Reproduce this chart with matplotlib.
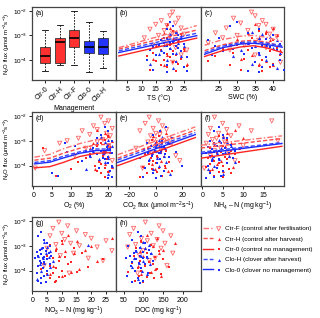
import numpy as np
import matplotlib
matplotlib.use('Agg')
import matplotlib.pyplot as plt
from matplotlib.legend_handler import HandlerTuple
from matplotlib.lines import Line2D

plt.rcParams['font.family'] = ['Liberation Sans', 'DejaVu Sans']
plt.rcParams['font.size'] = 5
plt.rcParams['mathtext.fontset'] = 'custom'
plt.rcParams['mathtext.rm'] = 'Liberation Sans'
plt.rcParams['mathtext.it'] = 'Liberation Sans:italic'
plt.rcParams['mathtext.bf'] = 'Liberation Sans:bold'

# ---- panel (a): box stats, log10 of N2O flux
box_names = ['Ctr-0', 'Ctr-H', 'Ctr-F', 'Clo-0', 'Clo-H']
box_whislo = [-4.45, -4.20, -4.20, -4.48, -4.33]
box_q1 = [-4.12, -4.12, -3.47, -3.70, -3.76]
box_med = [-3.84, -3.25, -3.09, -3.46, -3.46]
box_q3 = [-3.47, -3.10, -2.78, -3.21, -3.09]
box_whishi = [-2.78, -2.57, -2.00, -2.44, -2.84]

# ---- scatter data per group (log10 flux + drivers)
flux_ctrF = [-2.05, -2.2, -2.3, -2.4, -2.5, -2.55, -2.6, -2.7, -2.75, -2.8, -2.9,
             -2.95, -3.0, -3.05, -3.1, -3.2, -3.3, -3.4, -3.5, -3.6, -3.8, -4.1]
ts_ctrF = [21, 20, 23, 17, 22, 15, 19, 24, 13, 18, 21, 25, 16, 20, 11, 23, 19, 14, 22, 26, 24, 21]
swc_ctrF = [34, 35, 29, 37, 31, 38, 36, 27, 40, 33, 24, 39, 30, 41, 26, 36, 22, 32, 38, 28, 35, 42]
o2_ctrF = [18, 20, 19, 16, 21, 17, 13, 19.5, 15, 20.5, 12, 18.5, 9, 17, 7, 20, 14, 3, 19, 11, 21, 0.5]
co2_ctrF = [-5, 2, -8, 5, -2, 8, -12, 0, 3, -4, 10, -1, 6, -6, 12, 1, -15, 4, -3, 15, 18, -10]
nh4_ctrF = [3, 17, 5, 9, 2, 6, 12, 4, 1.5, 7, 3.5, 2.5, 18.5, 5.5, 1, 10, 4.5, 3, 6.5, 2, 8, 0.5]
no3_ctrF = [9, 12, 7, 15, 10, 18, 6, 20, 11, 25, 13, 8, 16, 22, 5, 27, 14, 9.5, 19, 24, 4, 12.5]
doc_ctrF = [105, 140, 75, 150, 120, 65, 170, 95, 135, 110, 155, 80, 125, 60, 145, 100, 175, 90, 130, 115, 160, 85]

flux_ctrH = [-2.55, -2.7, -2.8, -2.9, -3.0, -3.1, -3.15, -3.2, -3.3, -3.4, -3.6, -3.8,
             -3.95, -4.05, -4.15, -4.2]
ts_ctrH = [19, 20, 22, 18, 24, 21, 17, 23, 20, 15, 25, 19, 14, 22, 26, 18]
swc_ctrH = [35, 40, 38, 33, 41, 36, 30, 39, 37, 28, 42, 34, 31, 38, 36, 40]
o2_ctrH = [17, 19, 20, 18, 21, 16, 19.5, 20.5, 15, 18.5, 20, 17.5, 19, 21, 16.5, 20]
co2_ctrH = [3, 8, -2, 5, 0, 10, -4, 2, 6, -6, 1, 4, -3, 7, -1, 9]
nh4_ctrH = [8, 6, 5, 10, 4, 7, 3, 5.5, 9, 2, 6.5, 4.5, 3.5, 7.5, 2.5, 5]
no3_ctrH = [12, 27, 15, 10, 20, 8, 18, 11, 14, 9, 22, 7, 16, 13, 6, 10]
doc_ctrH = [110, 135, 95, 180, 125, 105, 150, 90, 140, 100, 115, 85, 130, 120, 95, 145]

flux_ctr0 = [-2.8, -2.95, -3.1, -3.2, -3.3, -3.4, -3.45, -3.5, -3.55, -3.6, -3.65, -3.7, -3.75,
             -3.8, -3.85, -3.9, -3.95, -4.0, -4.05, -4.1, -4.15, -4.2, -4.25, -4.3, -4.4, -4.45]
ts_ctr0 = [21, 24, 19, 22, 18, 20, 16, 23, 25, 17, 21, 14, 19, 22, 12, 20, 24, 18, 15, 21, 23, 17, 26, 19, 13, 22]
swc_ctr0 = [36, 38, 34, 40, 35, 30, 37, 41, 26, 33, 39, 29, 36, 42, 24, 38, 32, 37, 22, 35, 40, 28, 36, 39, 31, 37]
o2_ctr0 = [20, 19, 18, 17, 2.6, 16, 19, 21, 15, 18.5, 20, 14, 19.5, 17.5, 12, 20, 18, 16.5, 21, 19, 10, 17, 20, 18, 6, 19]
co2_ctr0 = [2, -3, 5, 0, -6, 8, -1, 4, -8, 1, 6, -4, 3, -2, 10, 0, -5, 7, -10, 2, -3, 12, 1, -7, 5, -12]
nh4_ctr0 = [4, 6, 3, 5, 2, 7, 4.5, 3.5, 8, 2.5, 5.5, 1.5, 6, 3, 9, 4, 2, 5, 1, 3.5, 6.5, 2, 4, 7, 3, 5]
no3_ctr0 = [10, 6, 14, 8, 17, 5, 11, 7, 24, 9, 13, 4, 12, 6, 19, 8, 3, 10, 15, 7, 5, 11, 9, 6, 8, 7.7]
doc_ctr0 = [95, 120, 80, 140, 110, 75, 130, 100, 150, 90, 115, 70, 125, 105, 165, 85, 135, 95, 60, 118, 145, 88, 108, 128, 78, 98]

flux_cloH = [-2.85, -2.95, -3.05, -3.1, -3.2, -3.3, -3.4, -3.45, -3.5, -3.6, -3.7, -3.75,
             -3.85, -4.0, -4.15, -4.33]
ts_cloH = [22, 20, 24, 19, 21, 23, 18, 25, 20, 17, 22, 16, 24, 19, 13, 21]
swc_cloH = [34, 37, 39, 36, 41, 33, 38, 35, 40, 31, 42, 36, 29, 38, 34, 41]
o2_cloH = [18, 20, 19, 17, 21, 19.5, 16, 20.5, 18.5, 15, 20, 17.5, 19, 21, 14, 20]
co2_cloH = [5, 2, 9, -1, 4, 7, 0, 3, -3, 6, 1, -5, 8, 2, -2, 11]
nh4_cloH = [5, 4, 6, 3, 7, 4.5, 2, 5.5, 3.5, 6.5, 2.5, 4, 8, 3, 1.5, 5]
no3_cloH = [4, 19, 5, 3, 6, 4.5, 2, 5.5, 3.5, 7, 4, 2.5, 6, 3, 5, 1.5]
doc_cloH = [100, 115, 90, 105, 80, 120, 95, 110, 75, 100, 88, 118, 70, 96, 108, 85]

flux_clo0 = [-2.45, -2.6, -2.75, -2.9, -3.0, -3.1, -3.15, -3.2, -3.25, -3.3, -3.35, -3.4, -3.42,
             -3.45, -3.48, -3.5, -3.55, -3.6, -3.65, -3.7, -3.75, -3.8, -3.9, -4.0, -4.1, -4.2,
             -4.3, -4.4, -4.45, -4.5]
ts_clo0 = [20, 21, 19, 22, 23, 18, 24, 17, 21, 20, 25, 16, 19, 22, 14, 23, 20, 13, 24, 18, 21, 15,
           26, 12, 22, 19, 25, 14, 26, 19]
swc_clo0 = [30, 28, 36, 33, 40, 25, 38, 22, 35, 31, 42, 27, 37, 24, 39, 34, 29, 41, 26, 36, 32, 23,
            38, 42, 35, 40, 37, 43, 33, 36]
o2_clo0 = [19, 20, 18, 17, 21, 8.5, 20, 11, 19.5, 16, 20.5, 14, 18, 9, 19, 21, 17, 15, 20, 18.5, 19,
           13, 20, 21, 17.5, 20.5, 4.9, 6.6, 21, 20]
co2_clo0 = [8, 3, -2, 12, 5, -7, 1, -4, 6, 0, -9, 4, -1, 15, 2, -6, 7, -3, 10, -12, 3, -5, 1, 20,
            -8, 6, -2, 4, -10, 0]
nh4_clo0 = [4, 3, 5, 6, 2, 4.5, 7, 3.5, 1.5, 5.5, 2.5, 8, 4, 3, 6.5, 1, 5, 2, 3, 7.5, 4, 2.5, 6,
            1.5, 3.5, 5, 2, 4.5, 3, 1]
no3_clo0 = [3, 2, 4, 5, 6, 3.5, 2.5, 4.5, 1.5, 5.5, 3, 6.5, 2, 4, 3.5, 1, 5, 2.5, 4, 3, 6, 2, 3.5,
            5, 1.5, 4, 3, 2, 4.5, 3]
doc_clo0 = [85, 95, 70, 105, 60, 90, 115, 80, 100, 75, 120, 65, 92, 110, 55, 98, 82, 125, 72, 88,
            103, 68, 95, 78, 112, 58, 86, 100, 70, 92]

# ---- fitted lines (log10 flux), group order: Ctr-F, Ctr-H, Ctr-0, Clo-H, Clo-0
ts_fit_x = [2, 29.5]
ts_fit_y = [[-3.50, -2.60], [-3.56, -2.78], [-3.84, -3.11], [-3.63, -2.91], [-3.70, -3.01]]
swc_fit_x = [21, 26, 31, 34.5, 38, 42.5]
swc_fit_y = [[-3.40, -3.17, -3.03, -3.00, -3.07, -3.25],
             [-3.62, -3.38, -3.24, -3.20, -3.27, -3.45],
             [-3.86, -3.62, -3.47, -3.42, -3.50, -3.70],
             [-3.70, -3.44, -3.29, -3.26, -3.31, -3.42],
             [-3.77, -3.50, -3.35, -3.32, -3.37, -3.48]]
o2_fit_x = [0.3, 4.4, 8, 12.4, 16.8, 20.5]
o2_fit_y = [[-3.66, -3.55, -3.32, -3.11, -2.95, -2.91],
            [-3.78, -3.70, -3.50, -3.30, -3.16, -3.14],
            [-4.09, -4.04, -3.87, -3.63, -3.50, -3.48],
            [-3.87, -3.80, -3.62, -3.44, -3.33, -3.33],
            [-3.93, -3.86, -3.69, -3.50, -3.39, -3.39]]
co2_fit_x = [-28.7, 29.7]
co2_fit_y = [[-3.56, -2.44], [-3.70, -2.57], [-4.00, -2.87], [-3.77, -2.67], [-3.87, -2.75]]
nh4_fit_x = [-0.3, 19.5]
nh4_fit_y = [[-3.18, -2.80], [-3.29, -2.91], [-3.70, -3.22], [-3.46, -3.07], [-3.52, -3.11]]

groups = ['Ctr-F', 'Ctr-H', 'Ctr-0', 'Clo-H', 'Clo-0']
labels = ['Ctr-F (control after fertilisation)', 'Ctr-H (control after harvest)',
          'Ctr-0 (control no management)', 'Clo-H (clover after harvest)',
          'Clo-0 (clover no management)']
flux = [flux_ctrF, flux_ctrH, flux_ctr0, flux_cloH, flux_clo0]
drivers = {
    'ts': [ts_ctrF, ts_ctrH, ts_ctr0, ts_cloH, ts_clo0],
    'swc': [swc_ctrF, swc_ctrH, swc_ctr0, swc_cloH, swc_clo0],
    'o2': [o2_ctrF, o2_ctrH, o2_ctr0, o2_cloH, o2_clo0],
    'co2': [co2_ctrF, co2_ctrH, co2_ctr0, co2_cloH, co2_clo0],
    'nh4': [nh4_ctrF, nh4_ctrH, nh4_ctr0, nh4_cloH, nh4_clo0],
    'no3': [no3_ctrF, no3_ctrH, no3_ctr0, no3_cloH, no3_clo0],
    'doc': [doc_ctrF, doc_ctrH, doc_ctr0, doc_cloH, doc_clo0],
}

red = '#ff2424'
blue = '#1c2cff'
mk = [dict(marker='v', s=9, facecolors='none', edgecolors='#ff6666', linewidths=0.6),
      dict(marker='^', s=5, color=red, linewidths=0),
      dict(marker='s', s=3, color=red, linewidths=0),
      dict(marker='^', s=5, color=blue, linewidths=0),
      dict(marker='s', s=3, color=blue, linewidths=0)]
ln = [dict(ls=(0, (4, 1.5, 1, 1.5)), color='#ff7070', lw=1.0),
      dict(ls=(0, (3, 1.5)), color='#ff4a4a', lw=1.0),
      dict(ls='-', color=red, lw=1.0),
      dict(ls=(0, (3, 1.5)), color='#3848ff', lw=1.0),
      dict(ls='-', color=blue, lw=1.0)]

fig = plt.figure(figsize=(3.2, 3.18), dpi=100)
W, H = 320, 318
cols = [(32, 116), (116, 201), (201, 284)]
rows = [(7, 80), (112, 186), (217, 291)]


def make_ax(r, c):
    x0, x1 = cols[c]
    y0, y1 = rows[r]
    ax = fig.add_axes([x0 / W, 1 - y1 / H, (x1 - x0) / W, (y1 - y0) / H])
    ax.set_yscale('log')
    ax.set_ylim(10 ** -4.82, 10 ** -1.84)
    ax.set_yticks([1e-4, 1e-3, 1e-2])
    ax.yaxis.set_minor_locator(matplotlib.ticker.NullLocator())
    ax.tick_params(direction='out', length=2.5, width=0.6, pad=1.5, labelsize=5)
    ax.tick_params(axis='y', pad=1, labelsize=4.6)
    for s in ax.spines.values():
        s.set_linewidth(0.9)
        s.set_color('#444444')
    if c == 0:
        ax.set_ylabel('N$_2$O flux (μmol m$^{-2}$s$^{-1}$)', fontsize=4.3)
        ax.yaxis.set_label_coords(-0.24, 0.5)
    else:
        ax.tick_params(labelleft=False, left=False)
    return ax


# (a) boxplot
ax = make_ax(0, 0)
stats = []
for i in range(5):
    stats.append(dict(label=box_names[i], med=10 ** box_med[i], q1=10 ** box_q1[i],
                      q3=10 ** box_q3[i], whislo=10 ** box_whislo[i], whishi=10 ** box_whishi[i]))
bp = ax.bxp(stats, positions=[1, 2, 3, 4, 5], widths=0.7, patch_artist=True, showfliers=False,
            medianprops=dict(color='black', lw=1.2),
            whiskerprops=dict(color='black', lw=0.6, ls=(0, (2, 1.5))),
            capprops=dict(color='black', lw=0.6), capwidths=0.4,
            boxprops=dict(lw=0.6, edgecolor='#333333'))
for i, patch in enumerate(bp['boxes']):
    patch.set_facecolor('#ff3030' if i < 3 else '#2434ff')
ax.set_xlim(0.1, 5.87)
ax.set_xticklabels(box_names, rotation=45, ha='right', rotation_mode='anchor')
ax.set_xlabel('Management', fontsize=5, labelpad=1)
ax.text(0.04, 0.96, '(a)', transform=ax.transAxes, va='top', ha='left', fontsize=5)

panels = [
    (0, 1, 'ts', '(b)', 'TS (°C)', (1, 31), [5, 10, 15, 20, 25], ts_fit_x, ts_fit_y),
    (0, 2, 'swc', '(c)', 'SWC (%)', (20, 43), [25, 30, 35, 40], swc_fit_x, swc_fit_y),
    (1, 0, 'o2', '(d)', 'O$_2$ (%)', (-0.35, 22), [0, 5, 10, 15, 20], o2_fit_x, o2_fit_y),
    (1, 1, 'co2', '(e)', 'CO$_2$ flux (μmol m$^{-2}$s$^{-1}$)', (-30, 34), [-20, 0, 20], co2_fit_x, co2_fit_y),
    (1, 2, 'nh4', '(f)', 'NH$_4$ – N (mg kg$^{-1}$)', (-0.3, 20), [0, 5, 10, 15], nh4_fit_x, nh4_fit_y),
    (2, 0, 'no3', '(g)', 'NO$_3$ – N (mg kg$^{-1}$)', (-0.1, 28.4), [0, 5, 10, 15, 20, 25], None, None),
    (2, 1, 'doc', '(h)', 'DOC (mg kg$^{-1}$)', (30, 247), [50, 100, 150, 200], None, None),
]

for r, c, key, tag, xlab, xlim, xt, fx, fy in panels:
    ax = make_ax(r, c)
    for g in range(5):
        ax.scatter(drivers[key][g], 10 ** np.array(flux[g]), zorder=3, **mk[g])
    if fx is not None:
        for g in range(5):
            ax.plot(fx, 10 ** np.array(fy[g]), zorder=4, **ln[g])
    ax.set_xlim(*xlim)
    ax.set_xticks(xt)
    ax.set_xlabel(xlab, fontsize=5, labelpad=1)
    ax.text(0.04, 0.96, tag, transform=ax.transAxes, va='top', ha='left', fontsize=5)

# legend
handles = []
for g in range(5):
    l = Line2D([], [], **ln[g])
    m = ax.scatter([], [], **mk[g])
    handles.append((l, m))
fig.legend(handles, labels, handler_map={tuple: HandlerTuple(ndivide=None, pad=0.2)},
           loc='upper left', bbox_to_anchor=(203 / W, 1 - 226 / H), frameon=False,
           fontsize=4.6, handlelength=3.2, handletextpad=0.3, labelspacing=0.75,
           borderpad=0, borderaxespad=0)

fig.savefig('out.png', dpi=100)
